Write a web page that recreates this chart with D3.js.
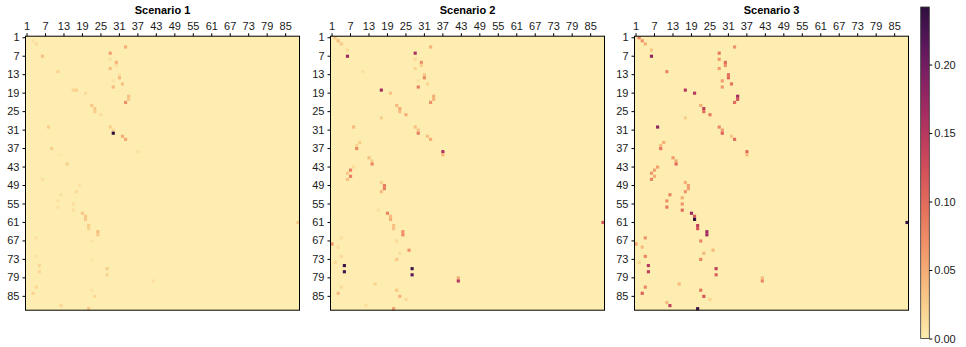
<!DOCTYPE html>
<html>
<head>
<meta charset="utf-8">
<script src="https://cdn.jsdelivr.net/npm/d3@7"></script>
<style>
  html, body { margin: 0; padding: 0; background: #fff; }
  svg { display: block; font-family: "Liberation Sans", Arial, Helvetica, sans-serif; }
</style>
</head>
<body>
<svg id="chart" width="966" height="347"></svg>
<script>
// Matrix size and tick labels shared by both axes
const nodeCount = 89;
const tickLabels = [1, 7, 13, 19, 25, 31, 37, 43, 49, 55, 61, 67, 73, 79, 85];
const scenarioTitles = ["Scenario 1", "Scenario 2", "Scenario 3"];
const colorbarTicks = [0, 0.05, 0.10, 0.15, 0.20];

// Non-zero entries of each matrix as [row, column, value]; all other cells are 0
const scenario1Cells = [
  [2,3,0.010],[3,4,0.015],[4,33,0.050],[6,28,0.060],[7,6,0.035],[8,28,0.010],[9,30,0.045],[10,30,0.012],
  [11,28,0.035],[12,11,0.020],[13,31,0.010],[14,31,0.040],[15,29,0.008],[16,32,0.035],[17,29,0.040],
  [18,16,0.020],[18,17,0.025],[19,20,0.015],[20,34,0.035],[21,34,0.030],[22,33,0.070],[23,22,0.030],
  [24,23,0.030],[25,23,0.025],[26,25,0.015],[30,8,0.025],[30,28,0.025],[31,29,0.020],[32,29,0.242],
  [33,32,0.050],[34,33,0.055],[37,9,0.025],[38,37,0.010],[39,12,0.005],[42,14,0.025],[47,6,0.010],
  [49,18,0.008],[51,17,0.015],[52,12,0.010],[54,11,0.010],[55,16,0.012],[56,11,0.010],[57,16,0.012],
  [58,19,0.030],[59,20,0.030],[60,20,0.028],[61,89,0.030],[62,21,0.025],[63,21,0.020],[64,24,0.040],
  [65,24,0.030],[66,4,0.010],[67,22,0.008],[72,4,0.008],[73,22,0.006],[75,5,0.018],[76,27,0.025],
  [77,5,0.018],[78,27,0.020],[80,42,0.010],[82,4,0.018],[83,22,0.010],[84,3,0.022],[85,23,0.018],
  [88,12,0.018],[89,21,0.030]
];
const scenario2Cells = [
  [1,2,0.030],[2,3,0.040],[3,4,0.030],[4,33,0.045],[5,6,0.015],[6,28,0.160],[7,6,0.170],[8,28,0.015],
  [9,30,0.070],[10,30,0.025],[11,28,0.020],[12,11,0.010],[13,31,0.030],[14,31,0.075],[15,29,0.010],
  [16,32,0.020],[17,29,0.085],[18,17,0.165],[19,20,0.035],[20,34,0.050],[21,34,0.045],[22,33,0.070],
  [23,22,0.040],[24,23,0.050],[25,23,0.040],[26,25,0.050],[27,17,0.025],[30,8,0.040],[30,28,0.035],
  [31,29,0.030],[32,29,0.085],[33,32,0.035],[34,33,0.050],[35,10,0.025],[36,9,0.020],[37,9,0.075],
  [38,37,0.160],[39,37,0.045],[40,13,0.035],[41,14,0.025],[42,14,0.080],[43,8,0.015],[44,7,0.085],
  [45,6,0.030],[46,7,0.085],[47,6,0.035],[48,17,0.025],[49,18,0.085],[50,18,0.085],[51,17,0.040],
  [57,16,0.010],[58,19,0.080],[59,20,0.040],[60,20,0.050],[61,89,0.120],[62,21,0.035],[63,21,0.035],
  [64,24,0.070],[65,24,0.075],[66,4,0.012],[67,22,0.015],[68,1,0.070],[69,3,0.012],[70,26,0.070],
  [71,23,0.012],[72,4,0.015],[73,22,0.030],[74,2,0.015],[75,5,0.235],[76,27,0.232],[77,5,0.232],
  [78,27,0.215],[79,42,0.050],[80,42,0.150],[81,15,0.020],[82,4,0.015],[83,22,0.030],[84,3,0.040],
  [85,23,0.045],[86,25,0.015],[88,12,0.012],[89,21,0.060]
];
const scenario3Cells = [
  [1,2,0.080],[2,3,0.070],[3,4,0.050],[4,33,0.070],[5,6,0.030],[6,28,0.090],[7,6,0.180],[8,28,0.065],
  [9,30,0.100],[10,30,0.070],[11,28,0.060],[12,11,0.080],[13,31,0.095],[14,31,0.105],[15,29,0.060],
  [16,32,0.095],[17,29,0.065],[18,17,0.150],[19,20,0.150],[20,34,0.170],[21,34,0.120],[22,33,0.100],
  [23,22,0.050],[24,23,0.140],[25,23,0.100],[26,25,0.090],[27,17,0.025],[30,8,0.185],[30,28,0.080],
  [31,29,0.065],[32,29,0.110],[33,32,0.030],[34,33,0.100],[35,10,0.050],[36,9,0.040],[37,9,0.090],
  [38,37,0.100],[39,37,0.040],[40,13,0.065],[41,14,0.050],[42,14,0.100],[43,8,0.060],[44,7,0.060],
  [45,6,0.065],[46,7,0.050],[47,6,0.080],[48,17,0.050],[49,18,0.060],[50,18,0.060],[51,17,0.070],
  [52,12,0.080],[53,16,0.050],[54,11,0.070],[55,16,0.070],[56,11,0.090],[57,16,0.100],[58,19,0.170],
  [59,20,0.120],[60,20,0.238],[61,89,0.236],[62,21,0.140],[63,21,0.120],[64,24,0.170],[65,24,0.170],
  [66,4,0.070],[67,22,0.080],[68,1,0.060],[69,3,0.040],[70,26,0.040],[71,23,0.040],[72,4,0.080],
  [73,22,0.080],[74,2,0.020],[75,5,0.150],[76,27,0.140],[77,5,0.140],[78,27,0.110],[79,42,0.040],
  [80,42,0.080],[81,15,0.040],[82,4,0.080],[83,22,0.090],[84,3,0.110],[85,23,0.120],[86,25,0.020],
  [87,11,0.040],[88,12,0.140],[89,21,0.232]
];

const scenarios = [scenario1Cells, scenario2Cells, scenario3Cells];

// Sequential palette: pale yellow -> orange -> crimson -> dark purple
const paletteStops = ["#fdedb0", "#f9cf8c", "#f5ae76", "#ee8d66", "#e46e5c", "#d4525a",
                      "#bd3b5e", "#9f2a62", "#7d1f63", "#56165a", "#2f0f3e"];
const vmax = d3.max(scenarios.flat(), d => d[2]);
const color = d3.scaleSequential(d3.piecewise(d3.interpolateRgb, paletteStops)).domain([0, vmax]);

const svg = d3.select("#chart");
const panelLefts = [25.5, 330.5, 634.5];
const panelTop = 36.2;
const panelSize = 274;
const indices = d3.range(1, nodeCount + 1);

const x = d3.scaleBand().domain(indices).range([0, panelSize]);
const y = d3.scaleBand().domain(indices).range([0, panelSize]);

function styleAxis(g) {
  g.select(".domain").remove();
  g.selectAll(".tick line").attr("stroke", "#000").attr("stroke-width", 1);
  g.selectAll(".tick text").attr("fill", "#1a1a1a").style("font-size", "11px")
    .style("font-family", '"Liberation Sans", Arial, sans-serif');
}

scenarios.forEach((cells, i) => {
  const g = svg.append("g").attr("transform", `translate(${panelLefts[i]},${panelTop})`);

  // zero-valued background cells
  g.append("rect")
    .attr("width", panelSize).attr("height", panelSize)
    .attr("fill", color(0));

  g.selectAll("rect.cell").data(cells).join("rect")
    .attr("class", "cell")
    .attr("x", d => x(d[1]))
    .attr("y", d => y(d[0]))
    .attr("width", x.bandwidth() + 0.05)
    .attr("height", y.bandwidth() + 0.05)
    .attr("fill", d => color(d[2]));

  g.append("rect")
    .attr("width", panelSize).attr("height", panelSize)
    .attr("fill", "none").attr("stroke", "#000").attr("stroke-width", 1);

  g.append("g")
    .call(d3.axisTop(x).tickValues(tickLabels).tickSize(3).tickPadding(3))
    .call(styleAxis);

  g.append("g")
    .call(d3.axisLeft(y).tickValues(tickLabels).tickSize(3).tickPadding(3))
    .call(styleAxis);

  svg.append("text")
    .attr("x", panelLefts[i] + panelSize / 2)
    .attr("y", 13.5)
    .attr("text-anchor", "middle")
    .style("font-size", "11px")
    .style("font-weight", "bold")
    .attr("fill", "#000")
    .text(scenarioTitles[i]);
});

// Colorbar
const cbX = 920.7, cbW = 8.6, cbTop = 7, cbBottom = 338.5;
const cbScale = d3.scaleLinear().domain([0, vmax]).range([cbBottom, cbTop]);
const defs = svg.append("defs");
const grad = defs.append("linearGradient").attr("id", "cbGrad")
  .attr("x1", 0).attr("y1", 1).attr("x2", 0).attr("y2", 0);
d3.range(0, 1.0001, 0.02).forEach(t => {
  grad.append("stop").attr("offset", t).attr("stop-color", color(t * vmax));
});
svg.append("rect")
  .attr("x", cbX).attr("y", cbTop)
  .attr("width", cbW).attr("height", cbBottom - cbTop)
  .attr("fill", "url(#cbGrad)")
  .attr("stroke", "#333").attr("stroke-width", 0.8);

svg.append("g")
  .attr("transform", `translate(${cbX + cbW},0)`)
  .call(d3.axisRight(cbScale).tickValues(colorbarTicks).tickFormat(d3.format(".2f")).tickSize(3).tickPadding(2))
  .call(styleAxis);
</script>
</body>
</html>
